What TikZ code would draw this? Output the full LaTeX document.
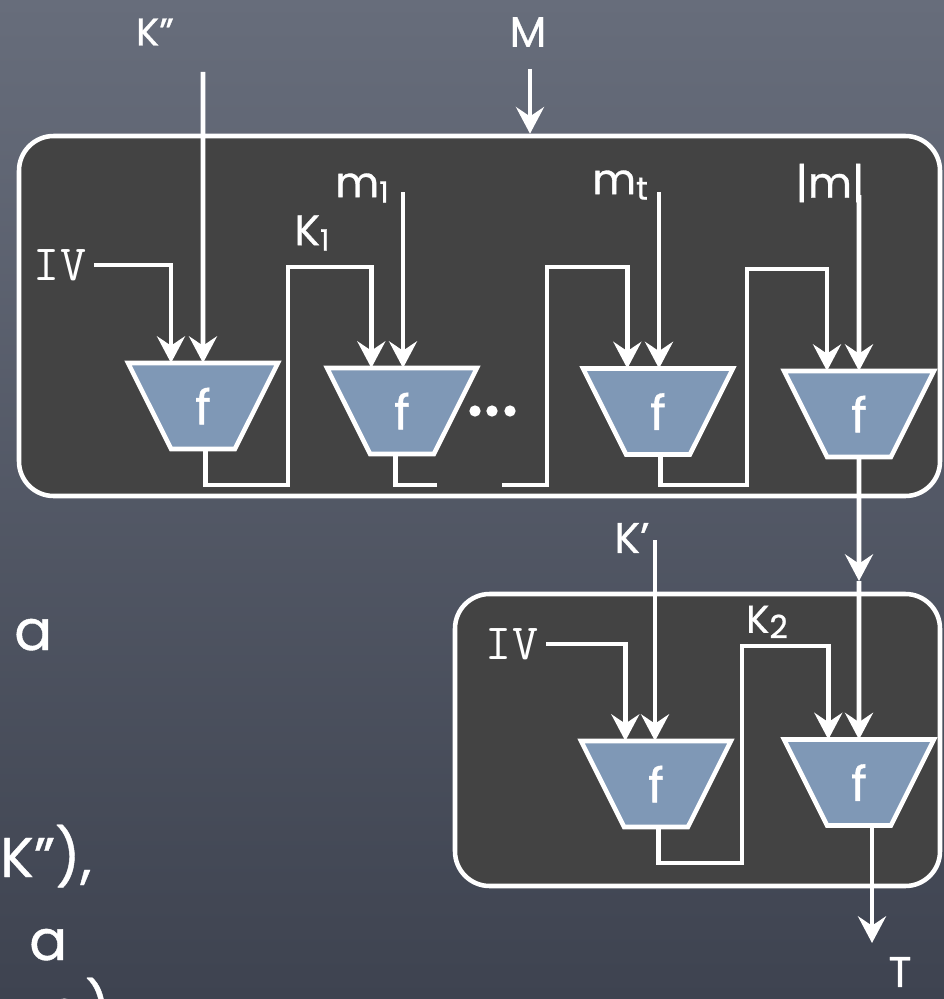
\documentclass[tikz,border=0pt]{standalone}
\usepackage{fontspec}
\newfontfamily\lab[FakeBold=0.7]{Poppins}
\usetikzlibrary{arrows.meta,shapes.geometric}
\definecolor{boxcol}{HTML}{434343}
\definecolor{fcol}{HTML}{7F98B6}
\definecolor{bgtop}{HTML}{676D7B}
\definecolor{bgbot}{HTML}{3E4350}
\begin{document}
\begin{tikzpicture}[x=0.75pt,y=-0.75pt,
  wire/.style={draw=white,line width=3.4pt,line join=miter},
  arr/.style={wire,-{Stealth[length=20pt,width=21pt,inset=7pt]}},
  panel/.style={draw=white,line width=3.4pt,fill=boxcol,rounded corners=26pt,inner sep=0pt},
  fblock/.style={trapezium,trapezium stretches=true,trapezium left angle=106.2,trapezium right angle=106.2,
     minimum width=112.5pt,minimum height=64.5pt,draw=white,line width=3.4pt,fill=fcol,text=white,
     font=\lab\fontsize{36}{36}\selectfont,inner sep=0pt,outer sep=0pt},
  lbl/.style={text=white,inner sep=0pt,font=\lab\fontsize{32}{32}\selectfont},
  mono/.style={text=white,inner sep=0pt,font=\ttfamily\fontsize{38}{38}\selectfont},
  slide/.style={text=white,inner sep=0pt,anchor=base west,font=\lab\fontsize{42}{42}\selectfont},
  dot/.style={circle,fill=white,inner sep=0pt,minimum size=8.5pt}]
\useasboundingbox (0,0) rectangle (944,999);
\shade[top color=bgtop,bottom color=bgbot] (0,0) rectangle (944,999);

% slide text fragments at the left
\node[slide] (s1) at (14,650) {a};
\node[slide] (s2) at (0,877) {K”),};
\node[slide] (s3) at (29,960) {a};
\node[slide] (s4) at (47,1030) {a)};

% panels
\node[panel,minimum width=690.75pt,minimum height=270pt] (box1) at (479.5,316) {};
\node[panel,minimum width=363.75pt,minimum height=219pt] (box2) at (697.5,740) {};

% f blocks
\node[fblock] (f1) at (203,406) {f};
\node[fblock] (f2) at (402,411) {f};
\node[fblock] (f3) at (658,411.5) {f};
\node[fblock] (f4) at (859,414) {f};
\node[fblock] (g1) at (656,784) {f};
\node[fblock] (g2) at (859,782.5) {f};

% labels
\node[lbl,font=\lab\fontsize{29}{29}\selectfont] (kpp) at (155,32) {K”};
\node[lbl] (Mlab) at (528,32) {M};
\node[lbl] (m1lab) at (362,188) {m\raisebox{-4pt}{\fontsize{22}{22}\selectfont 1}};
\node[lbl] (mtlab) at (620,185) {m\raisebox{-4pt}{\fontsize{24}{24}\selectfont t}};
\node[lbl] (mlen) at (830,183) {|m|};
\node[lbl] (k1lab) at (312,233) {K\raisebox{-4pt}{\fontsize{22}{22}\selectfont 1}};
\node[mono] (iv1) at (60,265) {IV};
\node[lbl] (kplab) at (632,538) {K’};
\node[mono] (iv2) at (512,644) {IV};
\node[lbl,font=\lab\fontsize{29}{29}\selectfont] (k2lab) at (767,622) {K\raisebox{-4pt}{\fontsize{24}{24}\selectfont 2}};
\node[lbl] (tlab) at (900,972) {T};

\node[dot] (d1) at (475,411) {};
\node[dot] (d2) at (492,411) {};
\node[dot] (d3) at (510,411) {};

% coordinates
\coordinate (ks) at (203,72);
\coordinate (ms) at (530,69);
\coordinate (m1s) at (403,192);
\coordinate (mts) at (659,192);
\coordinate (mls) at (859,195);
\coordinate (kps) at (655,540);
\coordinate (j1) at (288,485);
\coordinate (j2) at (288,267);
\coordinate (j3) at (437,485);
\coordinate (j4) at (502,485);
\coordinate (j5) at (547,485);
\coordinate (j6) at (547,267);
\coordinate (j7) at (747,485);
\coordinate (j8) at (747,269);
\coordinate (mid) at (859,581);
\coordinate (j9) at (742,863);
\coordinate (j10) at (742,646);
\coordinate (te) at (872,943);

% connectors, top panel
\draw[arr] (ms) -- (ms |- box1.north);
\draw[arr] ([xshift=6pt]iv1.east) -| ([xshift=-24pt]f1.north);
\draw[arr] (ks) -- (f1.north);
\draw[arr] ([xshift=2pt]f1.south) |- (j1) -- (j2) -| ([xshift=-23pt]f2.north);
\draw[arr] (m1s) -- (m1s |- f2.north);
\draw[wire] ([xshift=-5pt]f2.south) |- (j3);
\draw[arr] (j4) -- (j5) -- (j6) -| ([xshift=-23pt]f3.north);
\draw[arr] (mts) -- (mts |- f3.north);
\draw[arr] ([xshift=2pt]f3.south) |- (j7) -- (j8) -| ([xshift=-24pt]f4.north);
\draw[arr] (mls) -- (f4.north);
\draw[arr] (f4.south) -- (mid);
\draw[arr] (mid) -- (g2.north);

% connectors, bottom panel
\draw[arr] ([xshift=6pt]iv2.east) -| ([xshift=-23pt]g1.north);
\draw[arr] (kps) -- (kps |- g1.north);
\draw[arr] ([xshift=2pt]g1.south) |- (j9) -- (j10) -| ([xshift=-23pt]g2.north);
\draw[arr] (te |- g2.south) -- (te);
\end{tikzpicture}
\end{document}
